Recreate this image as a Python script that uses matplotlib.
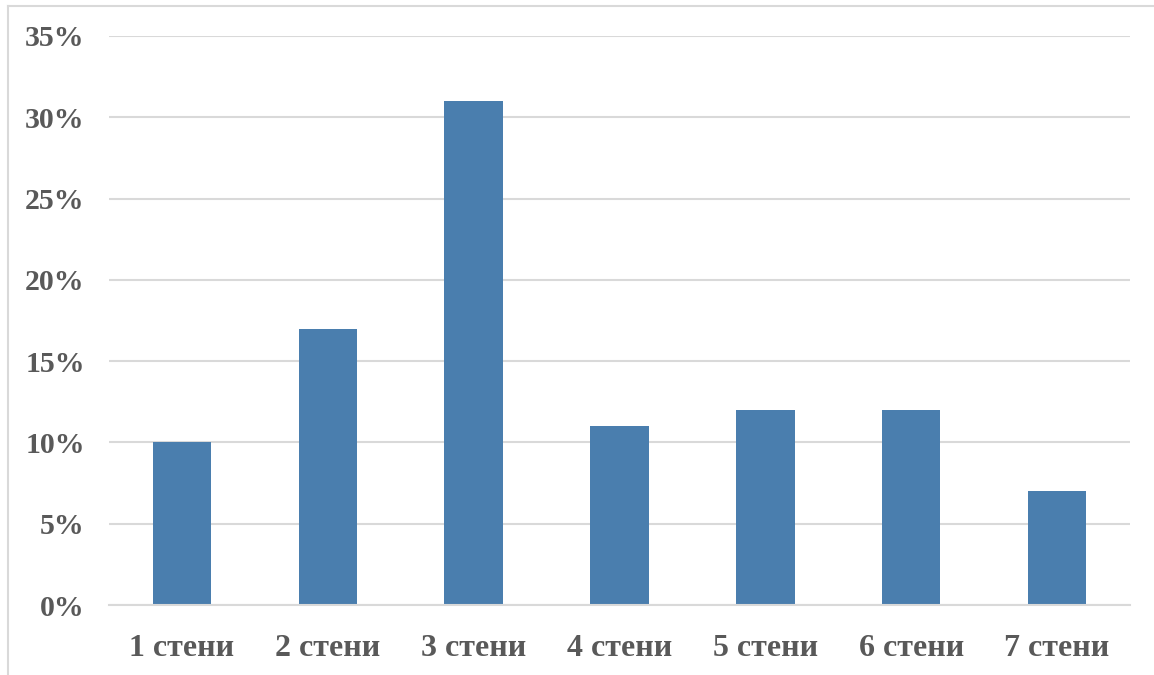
import matplotlib.pyplot as plt
from matplotlib.lines import Line2D
from matplotlib.ticker import PercentFormatter

categories = ["1 стени", "2 стени", "3 стени", "4 стени", "5 стени", "6 стени", "7 стени"]
shares = [10, 17, 31, 11, 12, 12, 7]
y_ticks = [0, 5, 10, 15, 20, 25, 30, 35]

plt.rcParams["font.family"] = ["Liberation Serif", "DejaVu Serif"]
text_color = "#595959"
grid_color = "#D9D9D9"

fig = plt.figure(figsize=(11.54, 6.75), dpi=100)
ax = fig.add_axes([109 / 1154, 1 - 605 / 675, 1021 / 1154, 569 / 675])

x = range(len(categories))
ax.bar(x, shares, width=0.4, color="#4A7EAE", zorder=3)

ax.set_xlim(-0.5, len(categories) - 0.5)
ax.set_ylim(0, 35)
ax.set_yticks(y_ticks)
ax.yaxis.set_major_formatter(PercentFormatter(decimals=0))
ax.set_xticks(list(x))
ax.set_xticklabels(categories)

ax.grid(axis="y", color=grid_color, linewidth=1.5, zorder=0)
for side in ["top", "right", "left"]:
    ax.spines[side].set_visible(False)
ax.spines["bottom"].set_color(grid_color)
ax.spines["bottom"].set_linewidth(1.5)
ax.spines["bottom"].set_zorder(4)

ax.tick_params(axis="both", length=0, labelcolor=text_color)
ax.tick_params(axis="y", pad=17.5, labelsize=21.5)
ax.tick_params(axis="x", pad=21, labelsize=23)
for lbl in ax.get_xticklabels() + ax.get_yticklabels():
    lbl.set_fontweight("bold")

# outer chart border (only left and top edges fall inside the image)
fig.add_artist(Line2D([8 / 1154, 8 / 1154], [0, 1 - 6 / 675],
                      transform=fig.transFigure, color=grid_color, linewidth=1.5))
fig.add_artist(Line2D([8 / 1154, 1], [1 - 6 / 675, 1 - 6 / 675],
                      transform=fig.transFigure, color=grid_color, linewidth=1.5))

fig.savefig("out.png", dpi=100)
